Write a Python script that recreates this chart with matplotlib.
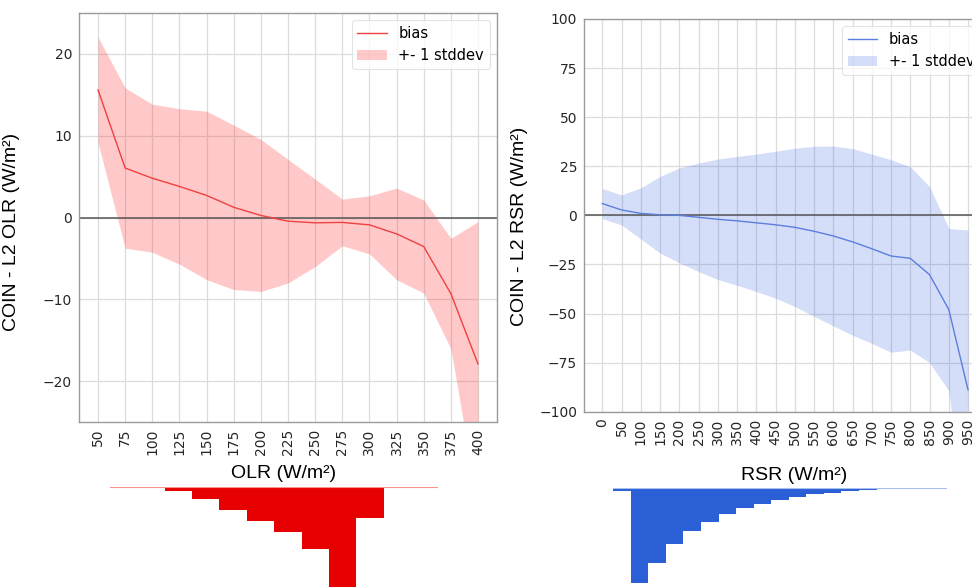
import numpy as np
import matplotlib
matplotlib.use("Agg")
import matplotlib.pyplot as plt

# ---- OLR bias statistics ----
olr_x = [50, 75, 100, 125, 150, 175, 200, 225, 250, 275, 300, 325, 350, 375, 400]
olr_bias = [15.6, 6.05, 4.8, 3.8, 2.7, 1.25, 0.25, -0.45, -0.65, -0.6, -0.9, -2.0, -3.55, -9.3, -17.9]
olr_std = [6.45, 9.8, 9.05, 9.5, 10.3, 10.05, 9.3, 7.55, 5.35, 2.85, 3.55, 5.6, 5.7, 6.75, 17.4]

# ---- RSR bias statistics ----
rsr_x = [0, 50, 100, 150, 200, 250, 300, 350, 400, 450, 500, 550, 600, 650,
         700, 750, 800, 850, 900, 950]
rsr_bias = [6.0, 2.75, 1.0, 0.3, 0.0, -1.0, -2.0, -2.8, -3.8, -4.8, -6.1, -8.1, -10.5, -13.5,
            -17.0, -20.7, -21.9, -30.2, -48.0, -88.9]
rsr_std = [7.65, 7.65, 13.0, 19.5, 24.2, 27.6, 30.7, 32.8, 35.0, 37.4, 40.3, 43.3, 45.8, 47.5,
           48.2, 49.0, 46.7, 44.8, 41.3, 81.4]

# ---- sample distributions (percent of samples per bin) ----
olr_hist_edges = [75, 100, 125, 150, 175, 200, 225, 250, 275, 300, 325, 350, 375]
olr_hist_pct = [0.08, 0.46, 1.4, 3.9, 7.1, 10.4, 13.9, 19.1, 33.6, 9.5, 0.5, 0.1]
rsr_hist_edges = [0, 50, 100, 150, 200, 250, 300, 350, 400, 450, 500, 550, 600, 650,
                  700, 750, 800, 850, 900, 950]
rsr_hist_pct = [0.61, 23.2, 18.4, 13.7, 10.5, 8.2, 6.3, 4.9, 3.85, 2.87, 2.06, 1.47,
                1.08, 0.66, 0.49, 0.29, 0.2, 0.12, 0.07]

olr_xticks = list(range(50, 401, 25))
olr_yticks = [-20, -10, 0, 10, 20]
rsr_xticks = list(range(0, 1001, 50))
rsr_yticks = [-100, -75, -50, -25, 0, 25, 50, 75, 100]

W, H = 972, 587
fig = plt.figure(figsize=(W / 100, H / 100), dpi=100)


def px_axes(x0, y0, x1, y1):
    """Axes placed from pixel coordinates (top-left origin)."""
    return fig.add_axes([x0 / W, 1 - y1 / H, (x1 - x0) / W, (y1 - y0) / H])


label_font = dict(family="Liberation Sans", size=14, color="black")


def style_panel(ax, xticks, yticks, xlim, ylim):
    ax.set_xlim(*xlim)
    ax.set_ylim(*ylim)
    ax.set_xticks(xticks)
    ax.set_yticks(yticks)
    ax.grid(True, color="#dcdcdc", linewidth=0.9)
    ax.set_axisbelow(True)
    for s in ax.spines.values():
        s.set_color("#9a9a9a")
        s.set_linewidth(1.0)
    ax.tick_params(axis="both", length=0, labelsize=10, labelcolor="#262626", pad=5)
    ax.tick_params(axis="x", labelrotation=90)


def draw_panel(ax, x, bias, std, line_color, fill_color, fill_alpha):
    x = np.asarray(x, float)
    b = np.asarray(bias, float)
    s = np.asarray(std, float)
    ax.axhline(0, color="#555555", linewidth=1.1, zorder=1.6)
    band = ax.fill_between(x, b - s, b + s, color=fill_color, alpha=fill_alpha,
                           linewidth=0, zorder=1.5)
    line, = ax.plot(x, b, color=line_color, linewidth=1.0, zorder=2)
    leg = ax.legend([line, band], ["bias", "+- 1 stddev"], loc="upper right",
                    fontsize=10.5, frameon=True, fancybox=True,
                    framealpha=0.8, edgecolor="#dddddd", handlelength=2.0)
    leg.get_frame().set_linewidth(0.8)


def draw_hist(ax, edges, pct, color, base_color, ymax):
    left = edges[:-1]
    widths = np.diff(edges)
    ax.bar(left, pct, width=widths, align="edge", color=color, linewidth=0)
    ax.set_xlim(edges[0], edges[-1])
    ax.set_ylim(ymax, 0)
    ax.axhline(0, color=base_color, linewidth=0.8)
    ax.axis("off")


# ---- OLR panel ----
ax1 = px_axes(79, 13, 497, 422)
draw_panel(ax1, olr_x, olr_bias, olr_std, "#f04040", "#ff2020", 0.24)
style_panel(ax1, olr_xticks, olr_yticks, (32.5, 417.5), (-25, 25))
ax1.set_ylabel("COIN - L2 OLR (W/m²)", fontdict=label_font)
ax1.yaxis.set_label_coords(-0.141, 0.4645)
ax1.set_xlabel("OLR (W/m²)", fontdict=label_font)
ax1.xaxis.set_label_coords(0.49, -0.105)

# ---- RSR panel ----
ax2 = px_axes(584, 19, 987.3, 411.7)
draw_panel(ax2, rsr_x, rsr_bias, rsr_std, "#5b7fe0", "#4169e1", 0.22)
style_panel(ax2, rsr_xticks, rsr_yticks, (-47.5, 997.5), (-100, 100))
ax2.set_ylabel("COIN - L2 RSR (W/m²)", fontdict=label_font)
ax2.yaxis.set_label_coords(-0.139, 0.471)
ax2.set_xlabel("RSR (W/m²)", fontdict=label_font)
ax2.xaxis.set_label_coords(0.52, -0.14)

# ---- sample histograms, hanging below each panel ----
h1 = px_axes(110, 486.7, 438.3, 587)
draw_hist(h1, olr_hist_edges, olr_hist_pct, "#e60000", "#ff9090", 30.7)

h2 = px_axes(613.3, 488.3, 946.7, 587)
draw_hist(h2, rsr_hist_edges, rsr_hist_pct, "#2a5fd6", "#a9bff0", 24.2)

fig.savefig("out.png", dpi=100)
